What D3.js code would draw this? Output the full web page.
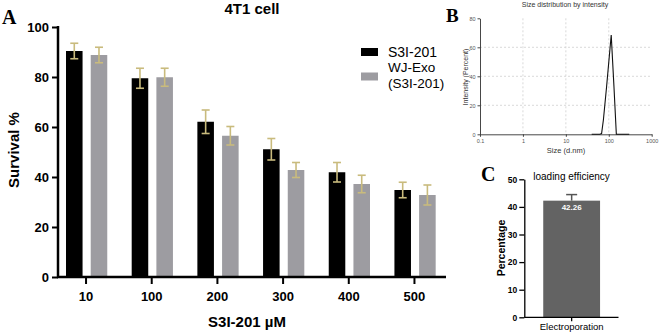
<!DOCTYPE html>
<html>
<head>
<meta charset="utf-8">
<script src="https://cdn.jsdelivr.net/npm/d3@7"></script>
<style>
  body { margin: 0; background: #fff; }
  svg { display: block; font-family: "Liberation Sans", Arial, sans-serif; }
</style>
</head>
<body>
<div id="chart"></div>
<script>
// panel A: survival
var doses = ["10", "100", "200", "300", "400", "500"];
var seriesNames = ["S3I-201", "WJ-Exo (S3I-201)"];
var s3iMean = [90.4, 79.5, 62.1, 51.1, 41.9, 34.8];
var s3iErr = [3.1, 4.0, 4.7, 4.3, 3.9, 3.1];
var exoMean = [88.8, 79.9, 56.5, 42.8, 37.2, 32.8];
var exoErr = [3.1, 3.6, 3.7, 3.0, 3.5, 4.0];
var survivalTicks = [0, 20, 40, 60, 80, 100];

// panel B: DLS size distribution
var sizeNm = [40, 62, 68, 75, 89, 114, 132, 150, 160, 300];
var intensity = [0, 0, 0.5, 10, 33, 68.5, 33, 0, 0, 0];
var sizeTicks = [0.1, 1, 10, 100, 1000];
var intensityTicks = [0, 20, 40, 60, 80];

// panel C: loading efficiency
var methods = ["Electroporation"];
var loadMean = [42.26];
var loadErr = [2.2];
var loadTicks = [0, 10, 20, 30, 40, 50];

var W = 669, H = 333;
var svg = d3.select("#chart").append("svg").attr("width", W).attr("height", H);

// ---------- panel A ----------
var colors = ["#000000", "#9d9ca1"];
var errColor = "#c9bb7d";
var x = d3.scaleBand().domain(doses).range([53.2, 447.3]);
var xs = d3.scaleBand().domain(seriesNames)
  .range([x.bandwidth() * 0.195, x.bandwidth() * 0.823]).paddingInner(0.33);
var y = d3.scaleLinear().domain([0, 100]).range([277, 27]);

var rows = doses.map(function (d, i) {
  return [
    { dose: d, name: seriesNames[0], v: s3iMean[i], e: s3iErr[i], c: colors[0] },
    { dose: d, name: seriesNames[1], v: exoMean[i], e: exoErr[i], c: colors[1] }
  ];
});

var g = svg.append("g");
var grp = g.selectAll("g.grp").data(rows).join("g")
  .attr("transform", function (d) { return "translate(" + x(d[0].dose) + ",0)"; });
grp.selectAll("rect").data(function (d) { return d; }).join("rect")
  .attr("x", function (d) { return xs(d.name); })
  .attr("y", function (d) { return y(d.v); })
  .attr("width", xs.bandwidth())
  .attr("height", function (d) { return y(0) - y(d.v); })
  .attr("fill", function (d) { return d.c; });

var eb = grp.selectAll("g.err").data(function (d) { return d; }).join("g")
  .attr("stroke", errColor).attr("stroke-width", 1.6);
eb.append("line")
  .attr("x1", function (d) { return xs(d.name) + xs.bandwidth() / 2; })
  .attr("x2", function (d) { return xs(d.name) + xs.bandwidth() / 2; })
  .attr("y1", function (d) { return y(d.v + d.e); })
  .attr("y2", function (d) { return y(d.v - d.e); });
[1, -1].forEach(function (s) {
  eb.append("line")
    .attr("x1", function (d) { return xs(d.name) + xs.bandwidth() / 2 - 4; })
    .attr("x2", function (d) { return xs(d.name) + xs.bandwidth() / 2 + 4; })
    .attr("y1", function (d) { return y(d.v + s * d.e); })
    .attr("y2", function (d) { return y(d.v + s * d.e); });
});

var yAxis = g.append("g").attr("transform", "translate(58,0)")
  .call(d3.axisLeft(y).tickValues(survivalTicks).tickSize(6).tickPadding(3))
  .attr("font-family", null);
yAxis.select(".domain").remove();
yAxis.selectAll("line").attr("stroke", "#000").attr("stroke-width", 2);
yAxis.selectAll("text").attr("font-size", 13).attr("font-weight", "bold").attr("fill", "#000");

var xAxis = g.append("g").attr("transform", "translate(0,277)")
  .call(d3.axisBottom(x).tickSize(7).tickPadding(8))
  .attr("font-family", null);
xAxis.select(".domain").remove();
xAxis.selectAll("line").attr("stroke", "#000").attr("stroke-width", 2);
xAxis.selectAll("text").attr("font-size", 13).attr("font-weight", "bold").attr("fill", "#000");

g.append("line").attr("x1", 58).attr("x2", 58).attr("y1", y(100) - 1).attr("y2", y(0) + 1)
  .attr("stroke", "#000").attr("stroke-width", 2.5);
g.append("line").attr("x1", 57).attr("x2", 446).attr("y1", y(0)).attr("y2", y(0))
  .attr("stroke", "#000").attr("stroke-width", 2.5);

g.append("text").attr("x", 252).attr("y", 14).attr("text-anchor", "middle")
  .attr("font-size", 15).attr("font-weight", "bold").text("4T1 cell");
g.append("text").attr("transform", "translate(19,150) rotate(-90)").attr("text-anchor", "middle")
  .attr("font-size", 15).attr("font-weight", "bold").text("Survival %");
g.append("text").attr("x", 247).attr("y", 327).attr("text-anchor", "middle")
  .attr("font-size", 15).attr("font-weight", "bold").text("S3I-201 µM");
g.append("text").attr("x", 2).attr("y", 24)
  .attr("font-family", "'Liberation Serif', serif").attr("font-size", 20).attr("font-weight", "bold").text("A");

// legend
var lg = g.append("g").attr("transform", "translate(361,0)");
lg.append("rect").attr("x", 0).attr("y", 48).attr("width", 17).attr("height", 8).attr("fill", colors[0]);
lg.append("rect").attr("x", 0).attr("y", 72.5).attr("width", 17).attr("height", 8).attr("fill", colors[1]);
lg.append("text").attr("x", 27).attr("y", 57).attr("font-size", 14).text("S3I-201");
lg.append("text").attr("x", 27).attr("y", 72).attr("font-size", 13.5).text("WJ-Exo");
lg.append("text").attr("x", 27).attr("y", 88).attr("font-size", 13.5).text("(S3I-201)");

// ---------- panel B ----------
var bx = d3.scaleLog().domain([0.1, 1000]).range([480, 651.7]);
var by = d3.scaleLinear().domain([0, 80]).range([134.3, 18.3]);
var gb = svg.append("g");
gb.append("g").selectAll("line").data(intensityTicks.filter(function (t) { return t > 0 && t < 80; })).join("line")
  .attr("x1", bx(0.1)).attr("x2", bx(1000))
  .attr("y1", function (d) { return by(d); }).attr("y2", function (d) { return by(d); })
  .attr("stroke", "#cfcfcf").attr("stroke-width", 0.8).attr("stroke-dasharray", "2,2");
gb.append("g").selectAll("line").data([1, 10, 100]).join("line")
  .attr("x1", function (d) { return bx(d); }).attr("x2", function (d) { return bx(d); })
  .attr("y1", by(80)).attr("y2", by(0))
  .attr("stroke", "#cfcfcf").attr("stroke-width", 0.8).attr("stroke-dasharray", "2,2");

var bxAxis = gb.append("g").attr("transform", "translate(0," + by(0) + ")")
  .call(d3.axisBottom(bx).tickValues(sizeTicks).tickFormat(function (d) { return String(d); })
    .tickSize(2.5).tickSizeOuter(0).tickPadding(2))
  .attr("font-family", null);
var byAxis = gb.append("g").attr("transform", "translate(" + bx(0.1) + ",0)")
  .call(d3.axisLeft(by).tickValues(intensityTicks).tickSize(2.5).tickSizeOuter(0).tickPadding(2))
  .attr("font-family", null);
[bxAxis, byAxis].forEach(function (a) {
  a.selectAll("path,line").attr("stroke", "#333").attr("stroke-width", 0.9);
  a.selectAll("text").attr("font-size", 5.5).attr("fill", "#555");
});

gb.append("path").datum(sizeNm.map(function (s, i) { return [s, intensity[i]]; }))
  .attr("d", d3.line().x(function (d) { return bx(d[0]); }).y(function (d) { return by(d[1]); }))
  .attr("fill", "none").attr("stroke", "#111").attr("stroke-width", 1.1);

gb.append("text").attr("x", 565).attr("y", 7).attr("text-anchor", "middle")
  .attr("font-size", 7).attr("fill", "#333").text("Size distribution by intensity");
gb.append("text").attr("x", 566).attr("y", 153).attr("text-anchor", "middle")
  .attr("font-size", 7.5).attr("fill", "#333").text("Size (d.nm)");
gb.append("text").attr("transform", "translate(467.5,77) rotate(-90)").attr("text-anchor", "middle")
  .attr("font-size", 7).attr("fill", "#333").text("Intensity (Percent)");
gb.append("text").attr("x", 446).attr("y", 22)
  .attr("font-family", "'Liberation Serif', serif").attr("font-size", 19).attr("font-weight", "bold").text("B");

// ---------- panel C ----------
var cx = d3.scaleBand().domain(methods).range([524.3, 619]).padding(0.25);
var cy = d3.scaleLinear().domain([0, 50]).range([317.3, 179.3]);
var gc = svg.append("g");
gc.selectAll("rect").data(methods).join("rect")
  .attr("x", function (d) { return cx(d); })
  .attr("y", function (d, i) { return cy(loadMean[i]); })
  .attr("width", cx.bandwidth())
  .attr("height", function (d, i) { return cy(0) - cy(loadMean[i]); })
  .attr("fill", "#636363");
gc.selectAll("g.err").data(methods).join("g").attr("class", "err")
  .attr("stroke", "#555").attr("stroke-width", 1.5)
  .each(function (d, i) {
    var cxm = cx(d) + cx.bandwidth() / 2;
    d3.select(this).append("line").attr("x1", cxm).attr("x2", cxm)
      .attr("y1", cy(loadMean[i])).attr("y2", cy(loadMean[i] + loadErr[i]));
    d3.select(this).append("line").attr("x1", cxm - 5.5).attr("x2", cxm + 5.5)
      .attr("y1", cy(loadMean[i] + loadErr[i])).attr("y2", cy(loadMean[i] + loadErr[i]));
  });
gc.selectAll("text.val").data(methods).join("text").attr("class", "val")
  .attr("x", function (d) { return cx(d) + cx.bandwidth() / 2; })
  .attr("y", function (d, i) { return cy(loadMean[i]) + 9.5; })
  .attr("text-anchor", "middle").attr("font-size", 8).attr("font-weight", "bold").attr("fill", "#fff")
  .text(function (d, i) { return loadMean[i].toFixed(2); });

var cyAxis = gc.append("g").attr("transform", "translate(524.3,0)")
  .call(d3.axisLeft(cy).tickValues(loadTicks).tickSize(5).tickSizeOuter(0).tickPadding(2))
  .attr("font-family", null);
var cxAxis = gc.append("g").attr("transform", "translate(0,317.3)")
  .call(d3.axisBottom(cx).tickSize(4).tickSizeOuter(0).tickPadding(2))
  .attr("font-family", null);
cyAxis.selectAll("text").attr("font-size", 8.5).attr("font-weight", "bold");
cxAxis.selectAll("text").attr("font-size", 9.5);
[cyAxis, cxAxis].forEach(function (a) {
  a.selectAll("path,line").attr("stroke", "#000").attr("stroke-width", 1.3);
  a.selectAll("text").attr("fill", "#000");
});
cxAxis.select(".domain").attr("d", "M524.3,0H618.5");

gc.append("text").attr("x", 571.5).attr("y", 179.5).attr("text-anchor", "middle")
  .attr("font-size", 10).attr("font-weight", 500).text("loading efficiency");
gc.append("text").attr("transform", "translate(504.5,248) rotate(-90)").attr("text-anchor", "middle")
  .attr("font-size", 10.5).attr("font-weight", "bold").text("Percentage");
gc.append("text").attr("x", 481).attr("y", 181)
  .attr("font-family", "'Liberation Serif', serif").attr("font-size", 20).attr("font-weight", "bold").text("C");
</script>
</body>
</html>
